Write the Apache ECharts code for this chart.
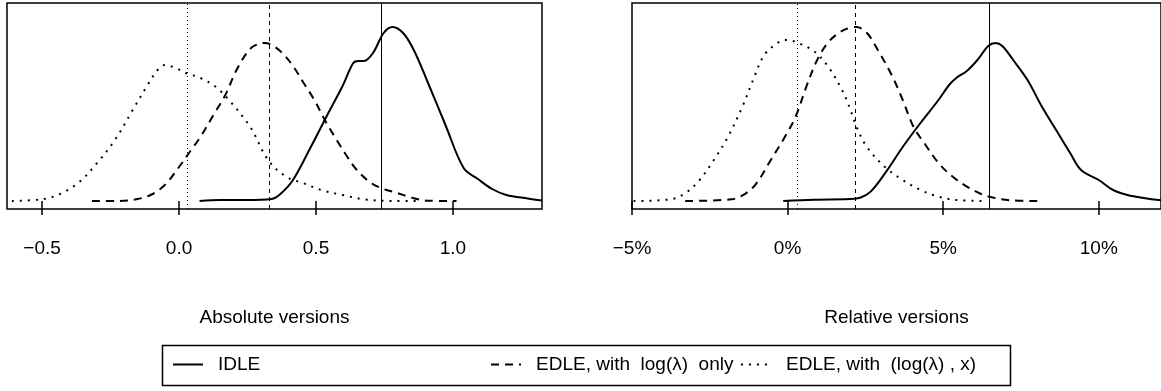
<!DOCTYPE html>
<html>
<head>
<meta charset="utf-8">
<script src="https://cdn.jsdelivr.net/npm/echarts@6/dist/echarts.min.js"></script>
<style>
  html, body { margin: 0; padding: 0; background: #fff; }
  #chart { width: 1161px; height: 391px; }
</style>
</head>
<body>
<div id="chart"></div>
<script>
// density estimates, [x, density] (density in arbitrary units)
const absIdle = [[0.075, 0], [0.15, 1], [0.25, 1], [0.338, 2], [0.37, 7], [0.416, 21], [0.481, 54], [0.545, 88],
  [0.597, 115], [0.636, 138], [0.655, 140], [0.675, 140], [0.708, 148], [0.747, 168], [0.779, 174], [0.818, 168],
  [0.857, 151], [0.909, 118], [0.974, 75], [1.039, 33], [1.091, 22], [1.143, 12], [1.195, 6], [1.273, 2.5], [1.325, 0.5]]
const absLogOnly = [[-0.318, 0], [-0.221, 0], [-0.156, 1.7], [-0.104, 6], [-0.052, 16], [0, 34], [0.039, 49], [0.078, 64],
  [0.13, 88], [0.169, 106], [0.208, 130], [0.247, 148], [0.273, 155], [0.312, 158], [0.338, 156], [0.377, 148],
  [0.416, 135], [0.455, 118], [0.494, 101], [0.532, 81], [0.571, 63], [0.61, 46], [0.649, 31], [0.701, 18],
  [0.747, 12], [0.792, 8.4], [0.857, 2.7], [0.909, 0.3], [1.013, 0]]
const absLogX = [[-0.61, 0], [-0.494, 2], [-0.429, 7.7], [-0.364, 19], [-0.299, 38], [-0.234, 61], [-0.169, 91],
  [-0.117, 115], [-0.078, 131], [-0.052, 136], [-0.013, 133], [0.026, 128], [0.078, 123], [0.13, 115], [0.182, 101],
  [0.26, 74], [0.325, 41], [0.39, 24.5], [0.455, 17.7], [0.519, 11], [0.597, 6], [0.675, 1.7], [0.779, 0], [0.883, 0]]

const relIdle = [[-0.14, 0], [0.84, 1.3], [1.98, 2], [2.33, 3.3], [2.67, 9.4], [3.13, 27.7], [3.7, 54], [4.27, 78],
  [4.85, 101], [5.19, 116], [5.42, 123], [5.76, 130], [6.1, 141], [6.45, 155], [6.68, 158], [6.9, 155], [7.25, 141],
  [7.71, 121], [8.17, 94.5], [8.63, 71], [9.08, 48], [9.43, 31], [10.0, 21], [10.46, 11], [10.92, 6], [11.49, 2.7],
  [11.92, 1], [12.2, 0.5]]
const relLogOnly = [[-3.29, 0], [-1.8, 1.7], [-1.34, 7.7], [-1.0, 17.7], [-0.54, 41], [-0.08, 64.5], [0.26, 84.5],
  [0.61, 115], [0.95, 141], [1.29, 158], [1.64, 168], [1.98, 173], [2.21, 174], [2.55, 168], [2.9, 151], [3.36, 125],
  [3.7, 101], [4.04, 74.5], [4.39, 58], [4.85, 38], [5.3, 24.4], [5.76, 14.4], [6.22, 7], [6.56, 3.7], [7.14, 0.7],
  [8.05, 0]]
const relLogX = [[-4.95, 0], [-3.75, 1.7], [-3.29, 7.7], [-2.83, 21], [-2.37, 41], [-1.91, 64.5], [-1.45, 94.5],
  [-1.11, 121], [-0.77, 145], [-0.42, 156], [-0.08, 161], [0.26, 159], [0.84, 150], [1.29, 135], [1.75, 111],
  [1.98, 94.5], [2.21, 74.5], [2.55, 54], [3.13, 34], [3.7, 21], [4.27, 11], [4.85, 4.3], [5.42, 1], [6.33, 0]]

// vertical reference lines: IDLE, log only, (log, x)
const absMarks = [0.743, 0.330, 0.026]
const relMarks = [6.47, 2.19, 0.32]

const absTicks = [-0.5, 0, 0.5, 1.0]
const relTicks = [-5, 0, 5, 10]

const names = ['IDLE', 'EDLE, with  log(\u03bb)  only', 'EDLE, with  (log(\u03bb) , x)']
const curveDash = ['solid', [8, 6], [2, 6]]
const markDash = ['solid', [4, 4], [1, 3]]

const font = 'Liberation Sans, Arial, Helvetica, sans-serif'
const minus = (s) => s.replace('-', '\u2212')

const chart = echarts.init(document.getElementById('chart'))

const makeSeries = (data, i, axis, marks) => ({
  type: 'line',
  name: names[i],
  xAxisIndex: axis,
  yAxisIndex: axis,
  data: data,
  smooth: 0.35,
  symbol: 'none',
  silent: true,
  lineStyle: { color: '#000', width: 2, type: curveDash[i] },
  itemStyle: { color: '#000' },
  markLine: {
    symbol: 'none',
    silent: true,
    label: { show: false },
    lineStyle: { color: '#000', width: 1, type: markDash[i] },
    data: [{ xAxis: marks[i] }]
  }
})

const xAxisBase = {
  type: 'value',
  axisLine: { show: false },
  splitLine: { show: false },
  axisTick: { show: true, length: 14, lineStyle: { color: '#000', width: 1.5 } },
  nameLocation: 'middle',
  nameGap: 109,
  nameTextStyle: { color: '#000', fontSize: 19, fontFamily: font, verticalAlign: 'middle' }
}

chart.setOption({
  animation: false,
  backgroundColor: '#fff',
  grid: [
    { left: 7, width: 535, top: 3, height: 206, show: true, borderColor: '#000', borderWidth: 1.5 },
    { left: 632, right: -3, top: 3, height: 206, show: true, borderColor: '#000', borderWidth: 1.5 }
  ],
  xAxis: [
    Object.assign({}, xAxisBase, {
      gridIndex: 0, min: -0.628, max: 1.325,
      name: 'Absolute versions',
      axisTick: Object.assign({}, xAxisBase.axisTick, { customValues: absTicks }),
      axisLabel: {
        customValues: absTicks, margin: 30, color: '#000', fontSize: 19, fontFamily: font,
        formatter: (v) => minus(v.toFixed(1))
      }
    }),
    Object.assign({}, xAxisBase, {
      gridIndex: 1, min: -5, max: 12,
      name: 'Relative versions',
      axisTick: Object.assign({}, xAxisBase.axisTick, { customValues: relTicks }),
      axisLabel: {
        customValues: relTicks, margin: 30, color: '#000', fontSize: 19, fontFamily: font,
        formatter: (v) => minus(v + '%')
      }
    })
  ],
  yAxis: [
    { type: 'value', gridIndex: 0, min: -8, max: 198, show: false },
    { type: 'value', gridIndex: 1, min: -8, max: 198, show: false }
  ],
  legend: names.map((n, i) => ({
    data: [n],
    left: [172, 490, 740][i],
    top: 355,
    padding: 0,
    itemWidth: [30, 30, 30][i],
    itemHeight: 14,
    selectedMode: false,
    itemStyle: { color: 'transparent', borderWidth: 0, opacity: 0 },
    textStyle: { color: '#000', fontSize: 19, fontFamily: font, padding: [0, 0, 0, 10] }
  })),
  graphic: [{
    type: 'rect',
    shape: { x: 162.5, y: 345.5, width: 848, height: 40 },
    style: { fill: 'none', stroke: '#000', lineWidth: 1.5 },
    silent: true
  }],
  series: [
    makeSeries(absIdle, 0, 0, absMarks),
    makeSeries(absLogOnly, 1, 0, absMarks),
    makeSeries(absLogX, 2, 0, absMarks),
    makeSeries(relIdle, 0, 1, relMarks),
    makeSeries(relLogOnly, 1, 1, relMarks),
    makeSeries(relLogX, 2, 1, relMarks)
  ]
})
</script>
</body>
</html>
